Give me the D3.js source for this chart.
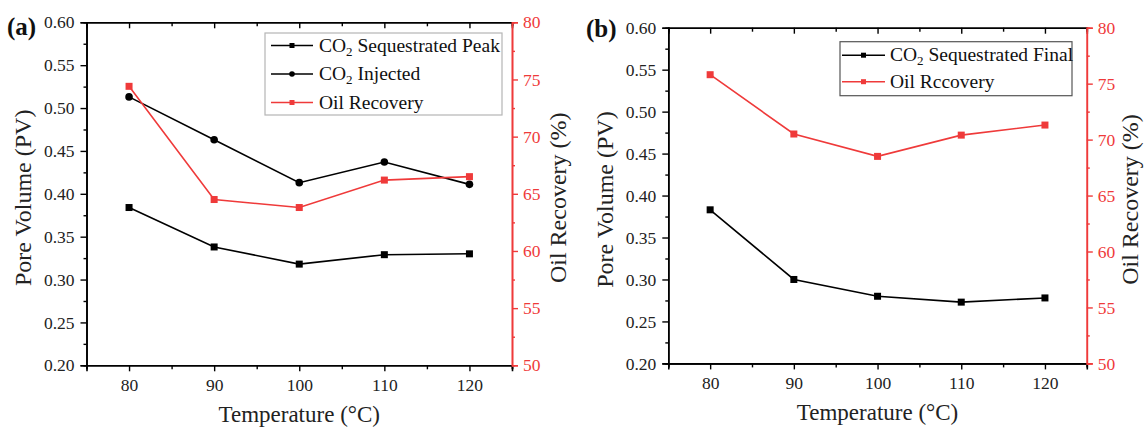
<!DOCTYPE html>
<html>
<head>
<meta charset="utf-8">
<script src="https://cdn.jsdelivr.net/npm/d3@7"></script>
<style>
  html, body { margin: 0; padding: 0; background: #fff; }
  svg { display: block; }
  text { font-family: "Liberation Serif", "Times New Roman", serif; }
</style>
</head>
<body>
<svg id="chart" width="1144" height="428"></svg>
<script>
// ---- data ----
const temps = [80, 90, 100, 110, 120];
const xTicks = [80, 90, 100, 110, 120];
const pvTicks = [0.20, 0.25, 0.30, 0.35, 0.40, 0.45, 0.50, 0.55, 0.60];
const oilTicks = [50, 55, 60, 65, 70, 75, 80];

const peakA = [0.384, 0.338, 0.318, 0.329, 0.330];
const injectedA = [0.513, 0.463, 0.413, 0.437, 0.411];
const oilA = [74.4, 64.5, 63.8, 66.2, 66.5];

const finalB = [0.383, 0.300, 0.280, 0.273, 0.278];
const oilB = [75.8, 70.5, 68.5, 70.4, 71.3];

const RED = "#ef3a3a";
const svg = d3.select("#chart");

function drawPanel(p) {
  const g = svg.append("g");
  const x = d3.scaleLinear().domain([75, 125]).range([p.left, p.right]);
  const y = d3.scaleLinear().domain([0.20, 0.60]).range([p.bottom, p.top]);
  const y2 = d3.scaleLinear().domain([50, 80]).range([p.bottom, p.top]);

  const minorX = d3.range(75, 126, 5).filter(v => v % 10 !== 0);
  const minorY = d3.range(0.225, 0.6, 0.05);
  const minorY2 = d3.range(52.5, 80, 5);

  // bottom axis
  g.append("g").attr("transform", `translate(0,${p.bottom})`)
    .call(d3.axisBottom(x).tickValues(xTicks).tickSize(6).tickPadding(7).tickFormat(d3.format("d")));
  g.append("g").attr("transform", `translate(0,${p.bottom})`)
    .call(d3.axisBottom(x).tickValues(minorX).tickSize(4).tickFormat(""));
  // top axis (ticks inward)
  g.append("g").attr("transform", `translate(0,${p.top})`)
    .call(d3.axisBottom(x).tickValues(xTicks).tickSize(6).tickFormat(""));
  g.append("g").attr("transform", `translate(0,${p.top})`)
    .call(d3.axisBottom(x).tickValues(minorX).tickSize(4).tickFormat(""));
  // left axis
  g.append("g").attr("transform", `translate(${p.left},0)`)
    .call(d3.axisLeft(y).tickValues(pvTicks).tickSize(6).tickPadding(6).tickFormat(d3.format(".2f")));
  g.append("g").attr("transform", `translate(${p.left},0)`)
    .call(d3.axisLeft(y).tickValues(minorY).tickSize(3).tickFormat(""));
  // right axis (red)
  g.append("g").attr("class", "red").attr("transform", `translate(${p.right},0)`)
    .call(d3.axisRight(y2).tickValues(oilTicks).tickSize(6).tickPadding(5).tickFormat(d3.format("d")));
  g.append("g").attr("class", "red").attr("transform", `translate(${p.right},0)`)
    .call(d3.axisRight(y2).tickValues(minorY2).tickSize(3).tickFormat(""));

  g.selectAll(".domain").attr("stroke", "#000").attr("stroke-width", 1.6);
  g.selectAll(".tick line").attr("stroke", "#000").attr("stroke-width", 1.4);
  g.selectAll(".tick text").attr("fill", "#222").style("font-size", "17.5px")
    .style("font-family", "'Liberation Serif', 'Times New Roman', serif");
  g.selectAll(".red .domain").attr("stroke", RED);
  g.selectAll(".red .tick line").attr("stroke", RED);
  g.selectAll(".red .tick text").attr("fill", RED);

  // axis titles
  const midY = (p.top + p.bottom) / 2 + 4;
  g.append("text").attr("x", (p.left + p.right) / 2).attr("y", p.xTitleY)
    .attr("text-anchor", "middle").style("font-size", "23px").attr("fill", "#222")
    .text("Temperature (°C)");
  g.append("text").attr("transform", `translate(${p.leftTitleX},${midY}) rotate(-90)`)
    .attr("text-anchor", "middle").style("font-size", "24px").attr("fill", "#222")
    .text("Pore Volume (PV)");
  g.append("text").attr("transform", `translate(${p.rightTitleX},${midY}) rotate(-90)`)
    .attr("text-anchor", "middle").style("font-size", "24px").attr("fill", "#222")
    .text("Oil Recovery (%)");
  g.append("text").attr("x", p.labelX).attr("y", p.labelY)
    .style("font-size", "25px").style("font-weight", "bold").attr("fill", "#111")
    .text(p.label);

  // series
  p.series.forEach(s => {
    const ys = s.axis === "oil" ? y2 : y;
    const pts = temps.map((t, i) => [x(t), ys(s.values[i])]);
    g.append("path").attr("d", d3.line()(pts)).attr("fill", "none")
      .attr("stroke", s.color).attr("stroke-width", 1.6);
    pts.forEach(pt => drawMarker(g, s.marker, pt[0], pt[1], s.color, 7));
  });

  // legend
  const L = p.legend;
  g.append("rect").attr("x", L.x).attr("y", L.y).attr("width", L.w).attr("height", L.h)
    .attr("fill", "#fff").attr("stroke", L.border).attr("stroke-width", 1.2);
  p.series.forEach((s, i) => {
    const yy = L.y + L.first + i * L.step;
    g.append("line").attr("x1", L.x + L.lineX0).attr("x2", L.x + L.lineX1)
      .attr("y1", yy).attr("y2", yy).attr("stroke", s.color).attr("stroke-width", 1.6);
    drawMarker(g, s.marker, L.x + (L.lineX0 + L.lineX1) / 2, yy, s.color, 5);
    const t = g.append("text").attr("x", L.x + L.textX).attr("y", yy + 6)
      .style("font-size", "19.5px").attr("fill", "#111");
    s.label.forEach(part => {
      const ts = t.append("tspan").text(part.t);
      if (part.sub) ts.attr("dy", 4).style("font-size", "13px");
      else if (part.after) ts.attr("dy", -4);
    });
  });
}

function drawMarker(g, type, cx, cy, color, size) {
  if (type === "square") {
    g.append("rect").attr("x", cx - size / 2).attr("y", cy - size / 2)
      .attr("width", size).attr("height", size).attr("fill", color);
  } else {
    g.append("circle").attr("cx", cx).attr("cy", cy).attr("r", size / 2 + 0.3).attr("fill", color);
  }
}

drawPanel({
  left: 86.5, right: 512, top: 22.3, bottom: 365.3,
  xTitleY: 422, leftTitleX: 31, rightTitleX: 566, labelX: 7, labelY: 35, label: "(a)",
  series: [
    { values: peakA, color: "#000", marker: "square", axis: "pv",
      label: [{ t: "CO" }, { t: "2", sub: true }, { t: " Sequestrated Peak", after: true }] },
    { values: injectedA, color: "#000", marker: "circle", axis: "pv",
      label: [{ t: "CO" }, { t: "2", sub: true }, { t: " Injected", after: true }] },
    { values: oilA, color: RED, marker: "square", axis: "oil", label: [{ t: "Oil Recovery" }] }
  ],
  legend: { x: 265, y: 33, w: 237, h: 82, border: "#b5b5b5", first: 12.5, step: 28.5,
            lineX0: 6, lineX1: 48, textX: 54 }
});

drawPanel({
  left: 668.3, right: 1086.8, top: 27.7, bottom: 363.4,
  xTitleY: 420, leftTitleX: 613, rightTitleX: 1138, labelX: 586, labelY: 37, label: "(b)",
  series: [
    { values: finalB, color: "#000", marker: "square", axis: "pv",
      label: [{ t: "CO" }, { t: "2", sub: true }, { t: " Sequestrated Final", after: true }] },
    { values: oilB, color: RED, marker: "square", axis: "oil", label: [{ t: "Oil Rccovery" }] }
  ],
  legend: { x: 840, y: 41.7, w: 232, h: 54, border: "#555", first: 13.5, step: 26.5,
            lineX0: 2, lineX1: 45, textX: 50 }
});
</script>
</body>
</html>
